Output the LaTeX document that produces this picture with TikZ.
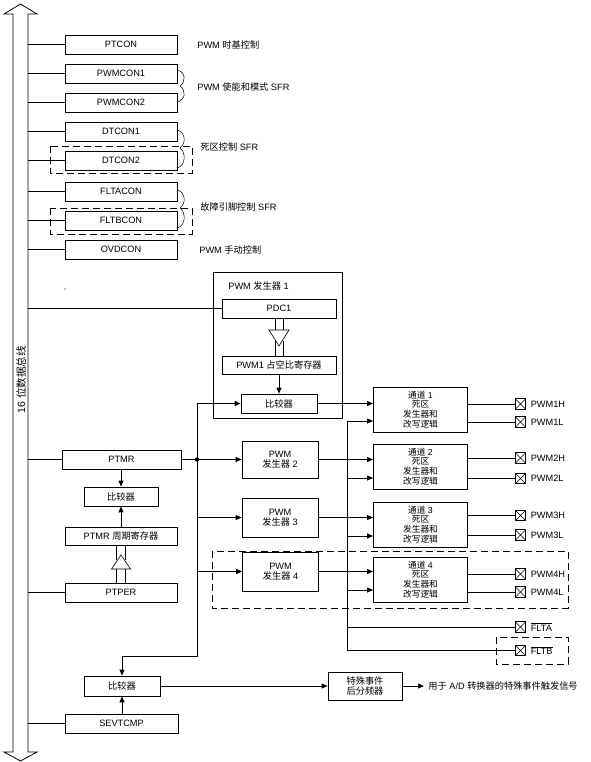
\documentclass[tikz,border=0pt]{standalone}
\usepackage{fontspec}
\setmainfont{Liberation Sans}
\newfontfamily\cjk{Noto Sans CJK SC}
\newcommand{\hz}[1]{{\cjk #1}}
\usetikzlibrary{arrows.meta}

\begin{document}
\begin{tikzpicture}[x=1pt,y=-1pt,line width=0.8pt,
    font=\fontsize{9.2}{10}\selectfont,
    reg/.style={draw,rectangle,inner sep=0pt,minimum width=112pt,minimum height=19pt},
    unit/.style={draw,rectangle,inner sep=0pt,minimum width=76pt,minimum height=37pt,align=center},
    chan/.style={draw,rectangle,inner sep=0pt,minimum width=94pt,minimum height=45pt,align=center,
                 font=\fontsize{8.7}{9.8}\selectfont},
    pin/.style={draw,rectangle,inner sep=0pt,minimum size=10.5pt,line width=0.6pt,
                path picture={\draw (path picture bounding box.south west) -- (path picture bounding box.north east)
                                    (path picture bounding box.north west) -- (path picture bounding box.south east);}},
    note/.style={anchor=west,inner sep=0pt},
    arr/.style={-{Triangle[length=6pt,width=5pt]}},
    group/.style={dash pattern=on 7pt off 4pt},
    hollow/.style={line width=0.6pt}]
        \useasboundingbox (0,0) rectangle (590,762);
        % the 16 bit data bus
        \draw (13,14) -- (4,14) -- (20.5,4) -- (37,14) -- (28,14) -- (28,752) -- (37,752)
              -- (20.5,761) -- (4,752) -- (13,752) -- cycle;
        \coordinate (busR) at (28,0);
        \node[rotate=90,font=\fontsize{10.5}{12}\selectfont] (buslabel) at (21,380) {16 \hz{位数据总线}};
        % control registers
        \node[reg] (ptcon)   at (121,44.5)  {PTCON};
        \node[reg] (pwmcon1) at (121,73.5)  {PWMCON1};
        \node[reg] (pwmcon2) at (121,102.5) {PWMCON2};
        \node[reg] (dtcon1)  at (121,131.5) {DTCON1};
        \node[reg] (dtcon2)  at (121,160.5) {DTCON2};
        \node[reg] (fltacon) at (121,191.5) {FLTACON};
        \node[reg] (fltbcon) at (121,220.5) {FLTBCON};
        \node[reg] (ovdcon)  at (121,249.5) {OVDCON};
        % braces and notes
        \foreach \ya/\ym/\yb in {70/86/102, 130/148/168, 190/208/228}
            \draw[line width=0.5pt] (177,\ya) .. controls (186,\ya+2) and (186,\ym-4) .. (180,\ym)
                                              .. controls (186,\ym+4) and (186,\yb-2) .. (177,\yb);
        \node[note] (lptcon)  at (197,44.5) {PWM \hz{时基控制}};
        \node[note] (lpwmcon) at (197,87)   {PWM \hz{使能和模式} SFR};
        \node[note] (ldtcon)  at (200,147)  {\hz{死区控制} SFR};
        \node[note] (lfltcon) at (200,207)  {\hz{故障引脚控制} SFR};
        \node[note] (lovdcon) at (199,249.5) {PWM \hz{手动控制}};
        \draw[group] (50,146) rectangle (192,173);
        \draw[group] (50,208) rectangle (192,234);
        \fill (65,289) circle (0.7);
        % PWM generator 1
        \draw (213,272) rectangle (342,418);
        \node[note] (lgen1) at (228,286) {PWM \hz{发生器} 1};
        \node[reg,minimum width=114pt] (pdc1) at (279,308.5) {PDC1};
        \node[reg,minimum width=114pt,minimum height=18pt] (duty1) at (279,365) {PWM1 \hz{占空比寄存器}};
        \node[reg,minimum width=76pt] (cmp1) at (279,403.5) {\hz{比较器}};
        \draw[arr] (duty1) -- (cmp1);
        \draw[hollow] ([xshift=-4pt]pdc1.south) -- ++(0,12) ([xshift=4pt]pdc1.south) -- ++(0,12);
        \draw[hollow] (269,330) -- (289,330) -- (279,346) -- cycle;
        \draw[hollow] ([xshift=-4pt]duty1.north) -- ++(0,-15) ([xshift=4pt]duty1.north) -- ++(0,-15);
        % time base
        \node[reg,minimum width=119pt] (ptmr) at (121.5,459.5) {PTMR};
        \node[reg,minimum width=74pt] (cmp0) at (121,496.5) {\hz{比较器}};
        \node[reg,minimum height=18pt] (per) at (121,536) {PTMR \hz{周期寄存器}};
        \node[reg] (ptper) at (121,592.5) {PTPER};
        \draw[arr] (cmp0.north |- ptmr.south) -- (cmp0.north);
        \draw[arr] (per) -- (cmp0);
        \draw[hollow] ([xshift=-4.5pt]ptper.north) -- ++(0,-14) ([xshift=4.5pt]ptper.north) -- ++(0,-14);
        \draw[hollow] (111.5,569) -- (130.5,569) -- (121,555) -- cycle;
        \draw[hollow] ([xshift=-4.5pt]per.south) -- ++(0,15) ([xshift=4.5pt]per.south) -- ++(0,15);
        % generators 2 to 4
        \node[unit] (gen2) at (280,459.5) {PWM\\\hz{发生器} 2};
        \node[unit,minimum height=39pt] (gen3) at (280,517.5) {PWM\\\hz{发生器} 3};
        \node[unit,minimum height=39pt] (gen4) at (280.5,571.5) {PWM\\\hz{发生器} 4};
        \coordinate (split) at (197,459.5);
        \coordinate (down) at (197,656);
        \draw (ptmr.east) -- (split);
        \draw[arr] (split) |- (cmp1.west);
        \draw[arr] (split) -- (gen2.west);
        \draw[arr] (split) |- (gen3.west);
        \draw[arr] (split) |- (gen4.west);
        \fill (split) circle (2.2);
        % dead time channels
        \foreach \i/\y in {1/409.5, 2/466.5, 3/524.5, 4/579.5}
            \node[chan] (ch\i) at (420.5,\y) {\hz{通道} \i\\\hz{死区}\\\hz{发生器和}\\\hz{改写逻辑}};
        \draw[arr] (cmp1.east) -- (cmp1.east -| ch1.west);
        \foreach \i in {2,3,4}
            \draw[arr] (gen\i.east) -- (gen\i.east -| ch\i.west);
        \foreach \i/\y in {1/421, 2/478, 3/536, 4/590} {
            \coordinate (lo\i) at (347,\y);
            \draw[arr] (lo\i) -- (lo\i -| ch\i.west);
        }
        % output pins
        \foreach \i/\yh/\yl in {1/404/422, 2/458/478.5, 3/515.5/535, 4/574/592} {
            \node[pin,label={[label distance=1pt]right:PWM\i H}] (ph\i) at (520.5,\yh) {};
            \node[pin,label={[label distance=1pt]right:PWM\i L}] (pl\i) at (520.5,\yl) {};
            \draw (ch\i.east |- ph\i.west) -- (ph\i.west);
            \draw (ch\i.east |- pl\i.west) -- (pl\i.west);
        }
        \node[pin,label={[label distance=1pt]right:$\overline{\mbox{FLTA}}$}] (flta) at (520.5,627) {};
        \node[pin,label={[label distance=1pt]right:$\overline{\mbox{FLTB}}$}] (fltb) at (520.5,650.5) {};
        \coordinate (fb) at (347,650.5);
        \draw (lo1) -- (fb) -- (fltb.west);
        \draw (flta.west) -- (flta.west -| fb);
        \draw[group] (212,551) rectangle (568,608);
        \draw[group] (496,637) rectangle (568,664);
        % special event trigger
        \node[reg,minimum width=76pt,minimum height=20pt] (cmp2) at (122,686) {\hz{比较器}};
        \node[reg,minimum width=113pt] (sevtcmp) at (121.5,723.5) {SEVTCMP};
        \node[unit,minimum width=74pt,minimum height=28pt] (evt) at (365,686) {\hz{特殊事件}\\\hz{后分频器}};
        \coordinate (trig) at (424,686);
        \node[note] (ltrig) at (428,686) {\hz{用于} A/D \hz{转换器的特殊事件触发信号}};
        \draw[arr] (split) -- (down) -| (cmp2.north);
        \draw[arr] (cmp2.south |- sevtcmp.north) -- (cmp2.south);
        \draw[arr] (cmp2.east) -- (evt.west);
        \draw[arr] (evt.east) -- (trig);
        % registers on the bus
        \foreach \r in {ptcon,pwmcon1,pwmcon2,dtcon1,dtcon2,fltacon,fltbcon,ovdcon,pdc1,ptmr,ptper,sevtcmp}
            \draw (\r.west) -- (\r.west -| busR);
\end{tikzpicture}
\end{document}
